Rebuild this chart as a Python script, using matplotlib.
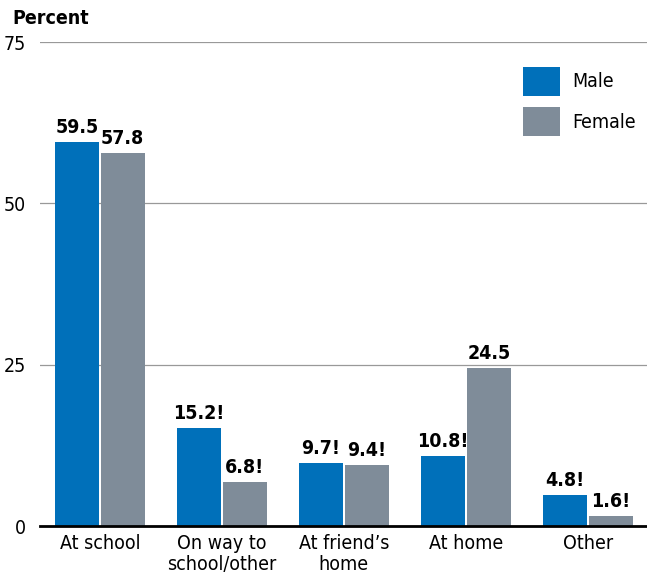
import matplotlib.pyplot as plt
import numpy as np

categories = ["At school", "On way to\nschool/other", "At friend\u2019s\nhome", "At home", "Other"]
male = [59.5, 15.2, 9.7, 10.8, 4.8]
female = [57.8, 6.8, 9.4, 24.5, 1.6]
male_labels = ["59.5", "15.2!", "9.7!", "10.8!", "4.8!"]
female_labels = ["57.8", "6.8!", "9.4!", "24.5", "1.6!"]

plt.rcParams['font.family'] = ['DejaVu Sans']
plt.rcParams['font.stretch'] = 'condensed'

fig = plt.figure(figsize=(6.47, 5.75), dpi=100)
ax = fig.add_axes([40/647, 49/575, 607/647, 484/575])

x = np.arange(len(categories))
w = 0.36
gap = 0.008
b1 = ax.bar(x - w/2 - gap, male, w, color='#0070BA', label='Male')
b2 = ax.bar(x + w/2 + gap, female, w, color='#7F8C99', label='Female')

for bars, labs in ((b1, male_labels), (b2, female_labels)):
    for b, s in zip(bars, labs):
        ax.text(b.get_x() + b.get_width()/2, b.get_height() + 0.8, s,
                ha='center', va='bottom', fontsize=14, fontweight='bold')

ax.set_xlim(-0.49, 4.485)
ax.set_ylim(0, 75)
ax.set_yticks([0, 25, 50, 75])
ax.yaxis.grid(True, color='#999999', linewidth=0.9)
ax.set_axisbelow(True)
for s in ['top', 'right', 'left']:
    ax.spines[s].set_visible(False)
ax.spines['bottom'].set_linewidth(2)
ax.tick_params(axis='y', length=0, labelsize=14, pad=10)
ax.tick_params(axis='x', length=0, labelsize=14, pad=6)
ax.set_xticks(x)
ax.set_xticklabels(categories, linespacing=1.1)
fig.text(12/647, 1 - 18/575, "Percent", fontsize=14, fontweight='bold', va='center')

ax.legend(loc='upper right', bbox_to_anchor=(1.01, 0.985), frameon=False, fontsize=14,
          handlelength=1.9, handleheight=1.9, labelspacing=0.6, handletextpad=0.6)

fig.savefig('out.png', dpi=100)
